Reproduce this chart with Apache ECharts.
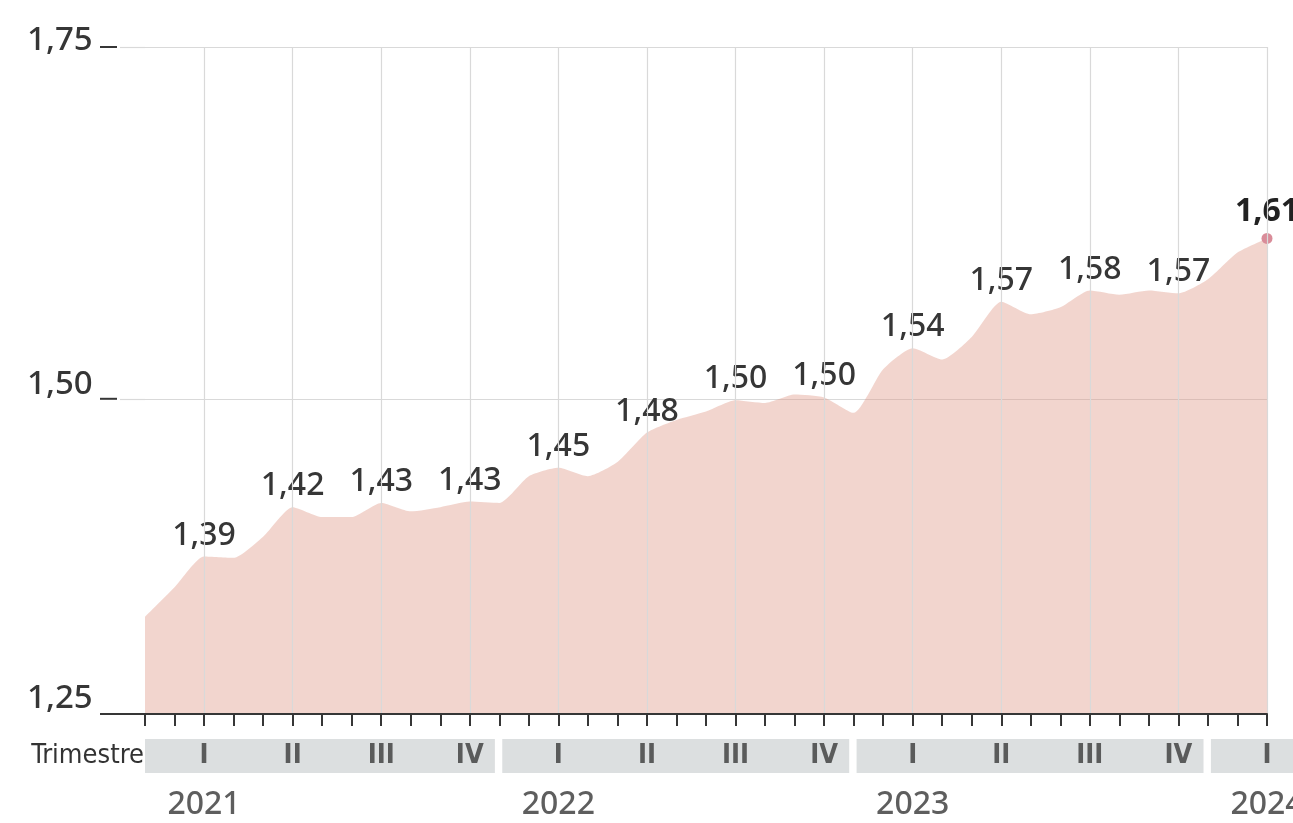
<!DOCTYPE html>
<html>
<head>
<meta charset="utf-8">
<script src="https://cdn.jsdelivr.net/npm/echarts@6/dist/echarts.min.js"></script>
<style>
  html, body { margin: 0; padding: 0; background: #ffffff; }
  #chart { width: 1293px; height: 823px; }
</style>
</head>
<body>
<div id="chart"></div>
<script>
// ---- data (monthly, Jan 2021 – Mar 2024) ----
const months = [
  '2021-01','2021-02','2021-03','2021-04','2021-05','2021-06','2021-07','2021-08','2021-09','2021-10','2021-11','2021-12',
  '2022-01','2022-02','2022-03','2022-04','2022-05','2022-06','2022-07','2022-08','2022-09','2022-10','2022-11','2022-12',
  '2023-01','2023-02','2023-03','2023-04','2023-05','2023-06','2023-07','2023-08','2023-09','2023-10','2023-11','2023-12',
  '2024-01','2024-02','2024-03'
];
const values = [
  1.345, 1.366, 1.388, 1.387, 1.402, 1.423, 1.416, 1.416, 1.426, 1.420, 1.423, 1.427,
  1.426, 1.445, 1.451, 1.445, 1.455, 1.476, 1.485, 1.491, 1.499, 1.497, 1.503, 1.501,
  1.490, 1.521, 1.536, 1.528, 1.544, 1.569, 1.560, 1.565, 1.577, 1.574, 1.577, 1.575,
  1.585, 1.604, 1.614
];
const years = ['2021', '2022', '2023', '2024'];
const quarterNames = ['I', 'II', 'III', 'IV'];
const yTickValues = [1.276, 1.50, 1.75];
const yTickLabels = ['1,25', '1,50', '1,75'];
const rowLabel = 'Trimestre';

// ---- derived ----
const last = values.length - 1;
const yMin = yTickValues[0];
const yMax = yTickValues[yTickValues.length - 1];
const W = 1293, gridLeft = 145, gridRight = 26;
const bandMax = last * (W - gridLeft) / (W - gridLeft - gridRight);

const fmt = v => v.toFixed(2).replace('.', ',');
const isQuarterEnd = i => i % 3 === 2;

const lineData = values.map((v, i) => i === last
  ? { value: v, label: { fontWeight: 'bold', color: '#222' } }
  : v);

const quarterPoints = [];
years.forEach((y, yi) => {
  quarterNames.forEach((q, qi) => {
    const idx = yi * 12 + qi * 3 + 2;
    if (idx <= last) quarterPoints.push({ name: q, value: [idx, 0] });
  });
});
const yearPoints = years.map((y, yi) => ({ name: y, value: [yi * 12 + 2, 0] }));
const bands = years.map((y, yi) => [
  { xAxis: yi * 12 + (yi > 0 ? 0.1 : 0) },
  { xAxis: Math.min((yi + 1) * 12 - 0.15, bandMax) }
]);

const txt = '#363636';
const sans = "'Noto Sans', 'Open Sans', sans-serif";
const narrow = "'Liberation Sans Narrow', 'DejaVu Sans Condensed', 'Roboto', sans-serif";
const gridColor = '#d9d9d9';
const W5 = 500;

const chart = echarts.init(document.getElementById('chart'), null, { renderer: 'canvas' });
chart.setOption({
  animation: false,
  backgroundColor: '#ffffff',
  grid: [
    { left: gridLeft, right: gridRight, top: 47, bottom: 109 },
    { left: gridLeft, right: 0, top: 739, height: 34 }
  ],
  xAxis: [
    {
      type: 'category', gridIndex: 0, data: months, boundaryGap: false, z: 10,
      axisLine: { lineStyle: { color: txt, width: 2 } },
      axisTick: { show: true, interval: 0, length: 12, lineStyle: { color: txt, width: 2 } },
      axisLabel: { show: false },
      splitLine: { show: true, interval: (i) => isQuarterEnd(i), lineStyle: { color: gridColor, width: 1.2 } }
    },
    { type: 'value', gridIndex: 1, min: 0, max: bandMax, show: false }
  ],
  yAxis: [
    {
      type: 'value', gridIndex: 0, min: yMin, max: yMax,
      axisLine: { show: false },
      axisTick: { show: true, customValues: yTickValues.slice(1), length: 25, lineStyle: { color: gridColor, width: 1.2 } },
      splitLine: { show: true, lineStyle: { color: gridColor, width: 1.2 } },
      axisLabel: {
        customValues: yTickValues, margin: 118, align: 'left',
        formatter: (v) => {
          const i = yTickValues.findIndex(t => Math.abs(t - v) < 1e-6);
          const style = i === 2 ? 'top' : (i === 1 ? 'mid' : 'low');
          return '{' + style + '|' + yTickLabels[i] + '}';
        },
        rich: {
          top: { fontSize: 33, fontWeight: W5, fontFamily: sans, color: txt, padding: [0, 0, 12, 0] },
          mid: { fontSize: 33, fontWeight: W5, fontFamily: sans, color: txt, padding: [0, 0, 28, 0] },
          low: { fontSize: 33, fontWeight: W5, fontFamily: sans, color: txt, padding: [0, 0, 30, 0] }
        }
      }
    },
    {
      type: 'category', gridIndex: 1, data: [rowLabel],
      axisLine: { show: false }, axisTick: { show: false }, splitLine: { show: false },
      axisLabel: { margin: 1, fontSize: 27, fontWeight: W5, fontFamily: narrow, color: '#333' }
    }
  ],
  series: [
    {
      type: 'line', xAxisIndex: 0, yAxisIndex: 0, data: lineData,
      silent: true, z: 2, smooth: 0.2,
      symbol: 'circle',
      symbolSize: (v, p) => (p.dataIndex === last ? 11 : 0),
      showSymbol: true,
      itemStyle: { color: '#d98c99' },
      lineStyle: { width: 0, opacity: 0 },
      areaStyle: { color: 'rgba(222,150,132,0.40)', opacity: 1 },
      label: {
        show: true, position: 'top', distance: 5,
        fontSize: 32, fontWeight: W5, fontFamily: sans, color: txt,
        formatter: (p) => (isQuarterEnd(p.dataIndex) ? fmt(values[p.dataIndex]) : '')
      },
      emphasis: { disabled: true }
    },
    {
      type: 'scatter', xAxisIndex: 1, yAxisIndex: 1, data: quarterPoints,
      symbolSize: 0, silent: true, z: 5,
      label: { show: true, position: 'inside', formatter: '{b}', fontSize: 27, fontWeight: 'bold', fontFamily: narrow, color: '#3a3a3a' },
      markArea: { silent: true, itemStyle: { color: '#dcdfe0' }, data: bands },
      emphasis: { disabled: true }
    },
    {
      type: 'scatter', xAxisIndex: 1, yAxisIndex: 1, data: yearPoints,
      symbolSize: 0, silent: true, z: 5,
      label: { show: true, position: 'inside', offset: [0, 49], formatter: '{b}', fontSize: 32, fontWeight: W5, fontFamily: sans, color: txt },
      emphasis: { disabled: true }
    }
  ]
});

// small dark dashes after the y labels and the left extension of the base line,
// positioned through the chart's own y scale
const dashEls = [];
yTickValues.forEach((v, i) => {
  const py = chart.convertToPixel({ yAxisIndex: 0 }, v);
  dashEls.push({
    type: 'line', silent: true, z: 20,
    shape: { x1: 100, y1: py, x2: i === 0 ? gridLeft : 117, y2: py },
    style: { stroke: txt, lineWidth: 2 }
  });
});
chart.setOption({ graphic: dashEls });
</script>
</body>
</html>
